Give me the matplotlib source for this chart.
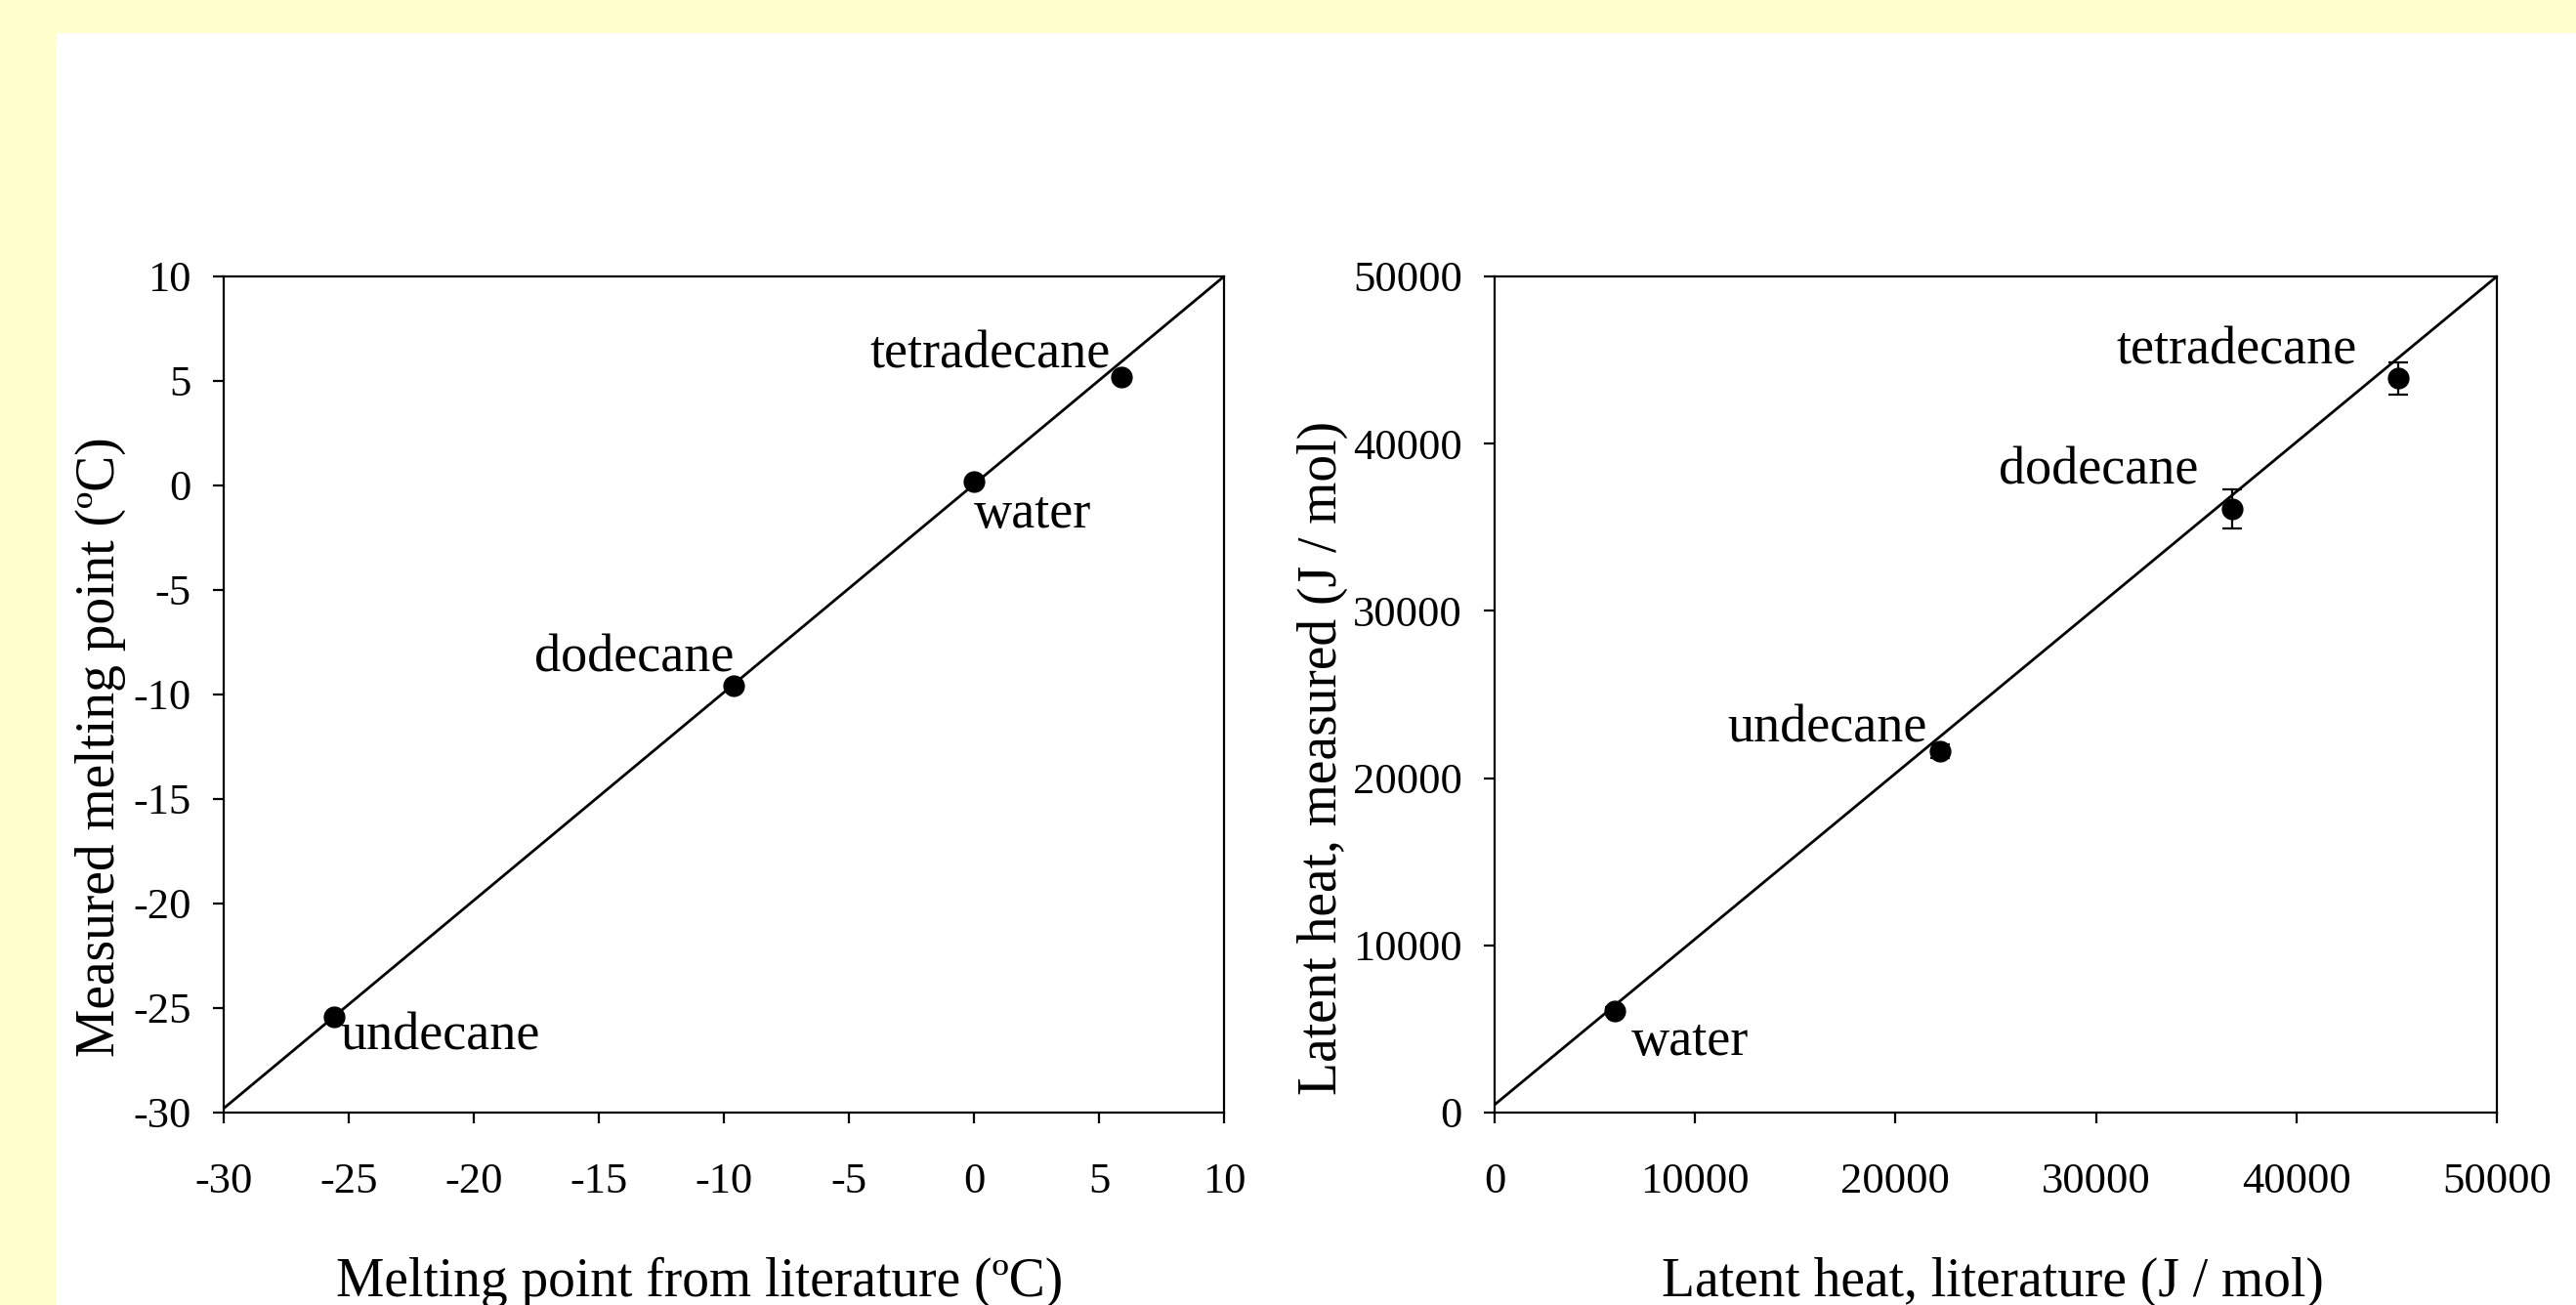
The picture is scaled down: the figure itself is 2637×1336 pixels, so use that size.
import matplotlib.pyplot as plt
from matplotlib.patches import Rectangle

plt.rcParams["font.family"] = ["Liberation Serif", "DejaVu Serif"]
plt.rcParams["axes.unicode_minus"] = False

# Melting point data (ºC)
names = ["undecane", "dodecane", "water", "tetradecane"]
mp_lit = [-25.6, -9.6, 0.0, 5.9]
mp_meas = [-25.4, -9.6, 0.2, 5.2]
mp_fit = (0.995, 0.05)  # slope, intercept

# Latent heat data (J / mol)
lh_names = ["water", "undecane", "dodecane", "tetradecane"]
lh_lit = [6010, 22200, 36800, 45070]
lh_meas = [6100, 21600, 36100, 43900]
lh_err = [200, 400, 1150, 980]
lh_fit = (0.9906, 470)

mp_ticks = list(range(-30, 11, 5))
lh_ticks = list(range(0, 50001, 10000))

# label offsets in points (dx, dy, ha)
mp_offsets = [(4.6, -24.8, "left"), (0.4, 10.4, "right"), (0, -33.8, "left"), (-7.9, 6.5, "right")]
lh_offsets = [(12.2, -32.4, "left"), (-9, 7.2, "right"), (-25.2, 18.5, "right"), (-30.2, 10.8, "right")]

fig = plt.figure(figsize=(26.37, 13.36), dpi=100, facecolor="#FFFFCC")
fig.patches.append(Rectangle((58 / 2637, 0), 1, 1 - 34 / 1336, transform=fig.transFigure,
                             facecolor="white", edgecolor="none", zorder=-1))

ax1 = fig.add_axes([0.08684, 0.14746, 0.38832, 0.64072])
ax2 = fig.add_axes([0.58020, 0.14746, 0.38908, 0.64072])

TICK_FS = 32
LABEL_FS = 40
ANN_FS = 39

for ax in (ax1, ax2):
    for s in ax.spines.values():
        s.set_linewidth(1.6)
    ax.tick_params(direction="out", length=8, width=1.6, labelsize=TICK_FS)
    ax.tick_params(axis="x", pad=29)
    ax.tick_params(axis="y", pad=16)
    ax.set_facecolor("white")

# left panel
ax1.plot([-30, 10], [mp_fit[0] * -30 + mp_fit[1], mp_fit[0] * 10 + mp_fit[1]], color="black", lw=2)
ax1.plot(mp_lit, mp_meas, "o", color="black", ms=15)
ax1.set_xlim(-30, 10)
ax1.set_ylim(-30, 10)
ax1.set_xticks(mp_ticks)
ax1.set_yticks(mp_ticks)
for name, x, y, (dx, dy, ha) in zip(names, mp_lit, mp_meas, mp_offsets):
    ax1.annotate(name, (x, y), xytext=(dx, dy), textcoords="offset points",
                 ha=ha, va="baseline", fontsize=ANN_FS)

# right panel
ax2.plot([0, 50000], [lh_fit[1], lh_fit[0] * 50000 + lh_fit[1]], color="black", lw=2)
ax2.errorbar(lh_lit, lh_meas, yerr=lh_err, fmt="o", color="black", ms=15,
             capsize=7, elinewidth=1.6, capthick=1.6)
ax2.set_xlim(0, 50000)
ax2.set_ylim(0, 50000)
ax2.set_xticks(lh_ticks)
ax2.set_yticks(lh_ticks)
for name, x, y, (dx, dy, ha) in zip(lh_names, lh_lit, lh_meas, lh_offsets):
    ax2.annotate(name, (x, y), xytext=(dx, dy), textcoords="offset points",
                 ha=ha, va="baseline", fontsize=ANN_FS)

# axis labels
ax1.set_xlabel("Melting point from literature (ºC)", fontsize=LABEL_FS)
ax1.xaxis.set_label_coords(716 / 2637, 9 / 1336, transform=fig.transFigure)
ax1.xaxis.label.set_va("baseline")
ax2.set_xlabel("Latent heat, literature (J / mol)", fontsize=LABEL_FS)
ax2.xaxis.set_label_coords(2040 / 2637, 9 / 1336, transform=fig.transFigure)
ax2.xaxis.label.set_va("baseline")

ax1.set_ylabel("Measured melting point (ºC)", fontsize=LABEL_FS)
ax1.yaxis.set_label_coords(117 / 2637, 1 - 765 / 1336, transform=fig.transFigure)
ax1.yaxis.label.set_va("baseline")
ax2.set_ylabel("Latent heat, measured (J / mol)", fontsize=LABEL_FS)
ax2.yaxis.set_label_coords(1368 / 2637, 1 - 776 / 1336, transform=fig.transFigure)
ax2.yaxis.label.set_va("baseline")

fig.savefig("out.png", dpi=100, facecolor=fig.get_facecolor())
